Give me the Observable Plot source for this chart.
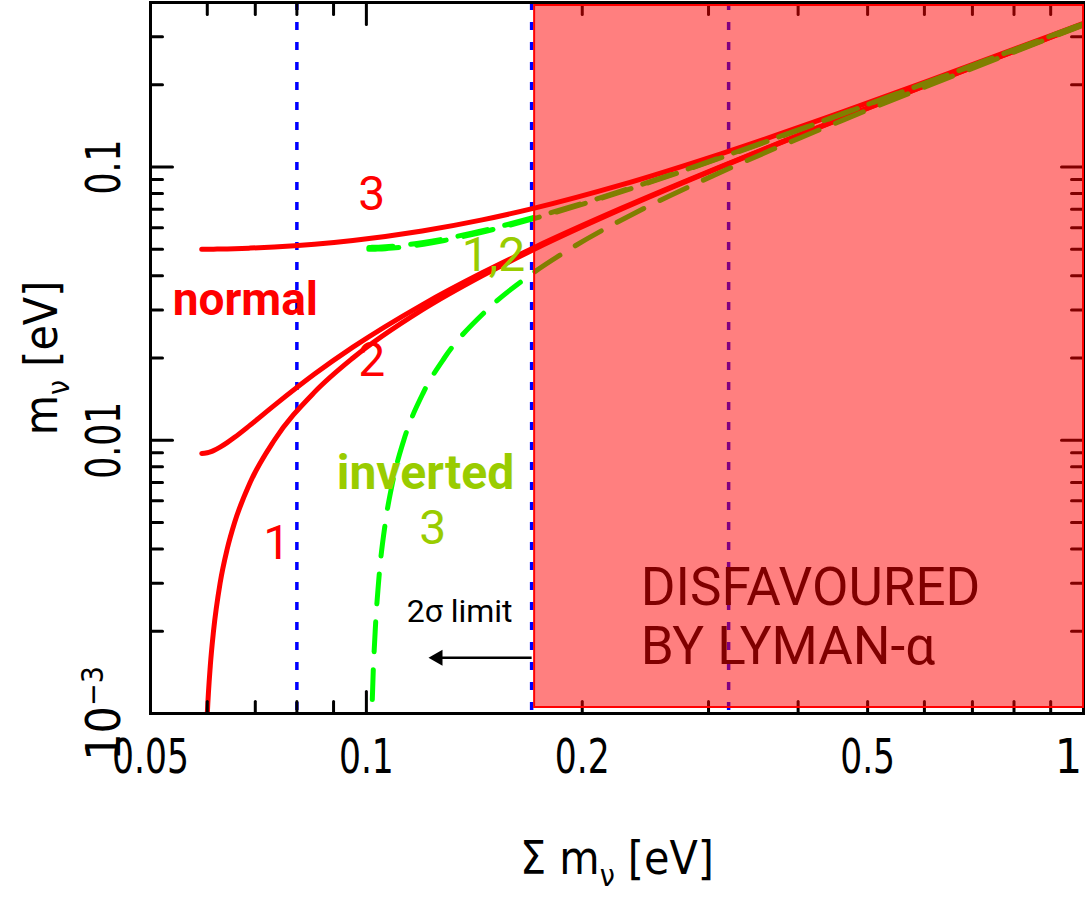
<!DOCTYPE html>
<html>
<head>
<meta charset="utf-8">
<script src="https://cdn.jsdelivr.net/npm/d3@7"></script>
<script src="https://cdn.jsdelivr.net/npm/@observablehq/plot@0.6"></script>
<style>
  html, body { margin: 0; padding: 0; background: #fff; }
  #chart { width: 1087px; height: 898px; overflow: hidden; }
</style>
</head>
<body>
<div id="chart"></div>
<script>
// ---------- data ----------
// Normal hierarchy: total mass and the three masses (eV)
const normalSum = [0.05894, 0.05946, 0.06001, 0.06059, 0.06121, 0.06252, 0.06396, 0.0655, 0.06885, 0.07441, 0.08466, 0.09576, 0.11962, 0.14502, 0.1715, 0.22659, 0.3122, 0.45838, 0.60636, 0.75511, 0.90427, 1.00285];
const normalM1  = [null, 0.0005, 0.001, 0.0015, 0.002, 0.003, 0.004, 0.005, 0.007, 0.01, 0.015, 0.02, 0.03, 0.04, 0.05, 0.07, 0.1, 0.15, 0.2, 0.25, 0.3, 0.333];
const normalM2  = [0.008944, 0.008958, 0.009, 0.009069, 0.009165, 0.009434, 0.009798, 0.010247, 0.011358, 0.013416, 0.017464, 0.021909, 0.031305, 0.040988, 0.050794, 0.070569, 0.1004, 0.15027, 0.2002, 0.25016, 0.30013, 0.33312];
const normalM3  = [0.05, 0.05, 0.05001, 0.05002, 0.05004, 0.05009, 0.05016, 0.05025, 0.05049, 0.05099, 0.0522, 0.05385, 0.05831, 0.06403, 0.07071, 0.08602, 0.1118, 0.15811, 0.20616, 0.25495, 0.30414, 0.33673];

// Inverted hierarchy
const invertedSum = [0.100794, 0.1013, 0.10181, 0.10287, 0.10397, 0.10629, 0.10876, 0.11276, 0.12016, 0.12844, 0.1473, 0.16868, 0.19198, 0.24251, 0.32396, 0.46648, 0.61251, 0.76006, 0.90841, 1.01254];
const invertedM3  = [null, 0.0005, 0.001, 0.002, 0.003, 0.005, 0.007, 0.01, 0.015, 0.02, 0.03, 0.04, 0.05, 0.07, 0.1, 0.15, 0.2, 0.25, 0.3, 0.335];
const invertedM1  = [0.05, 0.05, 0.05001, 0.05004, 0.05009, 0.05025, 0.05049, 0.05099, 0.0522, 0.05385, 0.05831, 0.06403, 0.07071, 0.08602, 0.1118, 0.15811, 0.20616, 0.25495, 0.30414, 0.33871];
const invertedM2  = [0.050794, 0.050797, 0.050804, 0.050833, 0.050882, 0.05104, 0.051274, 0.051769, 0.052962, 0.05459, 0.058992, 0.064653, 0.071274, 0.086487, 0.11216, 0.15837, 0.20635, 0.25511, 0.30427, 0.33883];

// Limits (vertical dotted lines) and the Lyman-alpha disfavoured region
const limitLines = [0.08, 0.17, 0.32];
const lymanFrom = 0.17, lymanTo = 1;

// Axes
const xDomain = [0.05, 1];
const yDomain = [0.001, 0.4];
const xMajorTicks = [0.1];
const xMinorTicks = [0.06, 0.07, 0.08, 0.09, 0.2, 0.3, 0.4, 0.5, 0.6, 0.7, 0.8, 0.9];
const yMajorTicks = [0.01, 0.1];
const yMinorTicks = [0.002, 0.003, 0.004, 0.005, 0.006, 0.007, 0.008, 0.009, 0.02, 0.03, 0.04, 0.05, 0.06, 0.07, 0.08, 0.09, 0.2, 0.3];
const xTickValues = [0.05, 0.1, 0.2, 0.5];
const xTickLabels = ["0.05", "0.1", "0.2", "0.5"];
const xEdgeTickValues = [1];
const xEdgeTickLabels = ["1"];
const yTickValues = [0.001, 0.01, 0.1];
const yTickLabels = ["10^{\u22123}", "0.01", "0.1"];
const xTitle = "\u03A3 m_{\u03BD} [eV]";
const yTitle = "m_{\u03BD} [eV]";

// Annotations (positions in data units)
const redLabels = [
  {s: 0.1017, m: 0.0794, t: "3"},
  {s: 0.1017, m: 0.0196, t: "2"},
  {s: 0.07496, m: 0.00419, t: "1"}
];
const normalLabel = [{s: 0.0678, m: 0.0325, t: "normal"}];
const invertedNumLabels = [
  {s: 0.1504, m: 0.0475, t: "1,2"},
  {s: 0.1237, m: 0.00476, t: "3"}
];
const invertedLabel = [{s: 0.1209, m: 0.00756, t: "inverted"}];
const limitLabel = [{s: 0.1349, m: 0.00236, t: "2\u03C3 limit"}];
const limitArrow = [{s1: 0.17, s2: 0.1258, m: 0.0016}];
const lymanLabel = [{s: 0.2413, m: 0.00228, t: "DISFAVOURED\nBY LYMAN-\u03B1"}];

// ---------- tables ----------
const normal = normalSum.map((s, i) => ({s, m1: normalM1[i], m2: normalM2[i], m3: normalM3[i]}));
const inverted = invertedSum.map((s, i) => ({s, m1: invertedM1[i], m2: invertedM2[i], m3: invertedM3[i]}));

const RED = "#ff0000", GREEN = "#00ff00", LGREEN = "#99cc00", BLUE = "#0000ff";
const axisFont = "'Liberation Sans Narrow', 'DejaVu Sans Condensed', 'Liberation Sans', sans-serif";
const annFont = "Roboto, 'Open Sans', sans-serif";

const tickShape = {draw(context, l) { context.moveTo(0, 0); context.lineTo(0, -l); }};
const tickBase = {shape: tickShape, anchor: "start", stroke: "black", strokeWidth: 3};
function ticks(values, side, len, isX) {
  const rot = {bottom: 0, top: 180, left: 90, right: -90}[side];
  const ch = isX ? {x: d => d} : {y: d => d};
  return Plot.vector(values, {...ch, frameAnchor: side, rotate: rot, length: len, ...tickBase});
}

const redLine = {stroke: RED, strokeWidth: 5, curve: "monotone-x", clip: true};
const greenLine = {stroke: GREEN, strokeWidth: 5, curve: "monotone-x", clip: true, strokeDasharray: "30,18"};
const axisText = {fontFamily: axisFont, fill: "black", textAnchor: "middle", lineAnchor: "middle"};

const chart = Plot.plot({
  width: 1087,
  height: 898,
  marginLeft: 150,
  marginRight: 4,
  marginTop: 2,
  marginBottom: 185,
  style: {background: "white", fontFamily: annFont, overflow: "visible"},
  x: {type: "log", domain: xDomain, axis: null},
  y: {type: "log", domain: yDomain, axis: null},
  marks: [
    // dotted limit lines
    Plot.ruleX(limitLines, {x: d => d, stroke: BLUE, strokeWidth: 3.5, strokeDasharray: "8,12"}),
    // normal hierarchy
    Plot.line(normal, {x: "s", y: "m1", ...redLine}),
    Plot.line(normal, {x: "s", y: "m2", ...redLine}),
    Plot.line(normal, {x: "s", y: "m3", ...redLine}),
    // inverted hierarchy
    Plot.line(inverted, {x: "s", y: "m1", ...greenLine}),
    Plot.line(inverted, {x: "s", y: "m2", ...greenLine, strokeDashoffset: 6}),
    Plot.line(inverted, {x: "s", y: "m3", ...greenLine}),
    // frame and inward ticks (all four sides)
    Plot.frame({stroke: "black", strokeWidth: 3}),
    ticks(xMajorTicks, "bottom", 22, true), ticks(xMinorTicks, "bottom", 12, true),
    ticks(xMajorTicks, "top", 22, true), ticks(xMinorTicks, "top", 12, true),
    ticks(yMajorTicks, "left", 22, false), ticks(yMinorTicks, "left", 12, false),
    ticks(yMajorTicks, "right", 22, false), ticks(yMinorTicks, "right", 12, false),
    // disfavoured region (semi-transparent)
    Plot.rect([{x1: lymanFrom, x2: lymanTo, y1: yDomain[0], y2: yDomain[1]}], {
      x1: "x1", x2: "x2", y1: "y1", y2: "y2",
      fill: RED, fillOpacity: 0.5, stroke: RED, strokeWidth: 2,
      insetLeft: 3, insetTop: 3, insetBottom: 6
    }),
    // tick labels
    Plot.text(xTickValues, {x: d => d, text: (d, i) => xTickLabels[i], frameAnchor: "bottom", dy: 44, fontSize: 48, ...axisText}),
    Plot.text(xEdgeTickValues, {x: d => d, text: (d, i) => xEdgeTickLabels[i], frameAnchor: "bottom", dy: 44, dx: -15, fontSize: 48, ...axisText}),
    Plot.text(yTickValues, {y: d => d, text: (d, i) => yTickLabels[i], frameAnchor: "left", dx: -46, rotate: -90, fontSize: 48, ...axisText}),
    // axis titles
    Plot.text([xTitle], {text: d => d, frameAnchor: "bottom", dy: 146, fontSize: 46, ...axisText}),
    Plot.text([yTitle], {text: d => d, frameAnchor: "left", dx: -108, rotate: -90, fontSize: 46, ...axisText}),
    // annotations
    Plot.text(redLabels, {x: "s", y: "m", text: "t", fill: RED, fontSize: 48, fontFamily: annFont}),
    Plot.text(normalLabel, {x: "s", y: "m", text: "t", fill: RED, fontSize: 46, fontWeight: "bold", fontFamily: annFont}),
    Plot.text(invertedNumLabels, {x: "s", y: "m", text: "t", fill: LGREEN, fontSize: 48, fontFamily: annFont}),
    Plot.text(invertedLabel, {x: "s", y: "m", text: "t", fill: LGREEN, fontSize: 48, fontWeight: "bold", fontFamily: annFont}),
    Plot.text(limitLabel, {x: "s", y: "m", text: "t", fill: "black", fontSize: 32, fontFamily: annFont}),
    Plot.link(limitArrow, {x1: "s1", x2: "s2", y1: "m", y2: "m", stroke: "black", strokeWidth: 2.5}),
    Plot.dot(limitArrow, {x: "s2", y: "m", symbol: "triangle", r: 6, rotate: -90, fill: "black", stroke: null}),
    Plot.text(lymanLabel, {x: "s", y: "m", text: "t", fill: "#800000", fontSize: 53, textAnchor: "start",
      lineHeight: 1.1, fontFamily: annFont})
  ]
});

document.getElementById("chart").append(chart);

// sub/superscripts inside axis texts
d3.select(chart).selectAll("text").each(function () {
  const t = this.textContent;
  const m = t.match(/^(.*?)([_^])\{(.+?)\}(.*)$/);
  if (!m) return;
  const [, before, kind, inner, after] = m;
  const sel = d3.select(this);
  sel.text(null);
  const shift = kind === "_" ? 12 : -17;
  sel.append("tspan").text(before);
  sel.append("tspan").attr("dy", shift).attr("font-size", 30).text(inner);
  if (after) sel.append("tspan").attr("dy", -shift).text(after);
});

// condense the numeric tick labels (narrow plotter-style digits)
const tickTexts = new Set([...xTickLabels, "0.01", "0.1"]);
d3.select(chart).selectAll("text").each(function () {
  if (!tickTexts.has(this.textContent)) return;
  const len = this.getComputedTextLength();
  this.setAttribute("textLength", (len * 0.8).toFixed(1));
  this.setAttribute("lengthAdjust", "spacingAndGlyphs");
});
</script>
</body>
</html>
